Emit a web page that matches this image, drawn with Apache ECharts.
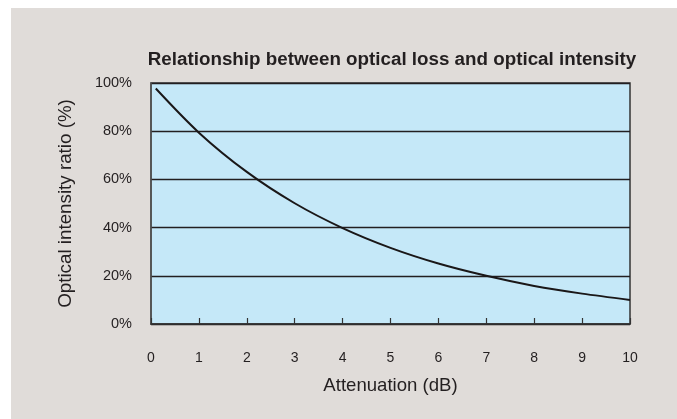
<!DOCTYPE html>
<html>
<head>
<meta charset="utf-8">
<script src="https://cdn.jsdelivr.net/npm/echarts@6/dist/echarts.min.js"></script>
<style>
  html, body { margin: 0; padding: 0; background: #ffffff; }
  #chart { width: 677px; height: 419px; }
</style>
</head>
<body>
<div id="chart"></div>
<script>
// Attenuation (dB) and the remaining optical intensity (%)
const attenuationDb = [0.1, 1, 2, 3, 4, 5, 6, 7, 8, 9, 10];
const intensityPct  = [97.7, 79.4, 63.1, 50.1, 39.8, 31.6, 25.1, 20.0, 15.8, 12.6, 10.0];
const xTicks = [0, 1, 2, 3, 4, 5, 6, 7, 8, 9, 10];
const yTicks = [0, 20, 40, 60, 80, 100];

const chart = echarts.init(document.getElementById('chart'), null, { renderer: 'canvas' });
const font = 'Liberation Sans, Arial, Helvetica, sans-serif';

chart.setOption({
  backgroundColor: '#ffffff',
  animation: false,
  graphic: [{
    type: 'rect',
    z: -10,
    shape: { x: 11, y: 8, width: 666, height: 411 },
    style: { fill: '#e0dcd9' },
    silent: true
  }],
  title: {
    text: 'Relationship between optical loss and optical intensity',
    left: 387, top: 45, textAlign: 'center',
    textStyle: { fontFamily: font, fontSize: 18.8, fontWeight: 'bold', color: '#231f20' }
  },
  grid: {
    left: 151, right: 47, top: 83, bottom: 95,
    show: true, backgroundColor: '#c5e8f8',
    borderColor: '#333333', borderWidth: 1.5
  },
  xAxis: {
    type: 'value', min: 0, max: 10, interval: 1,
    name: 'Attenuation (dB)', nameLocation: 'middle', nameGap: 52,
    nameTextStyle: { fontFamily: font, fontSize: 18.6, color: '#231f20' },
    axisLine: { show: true, lineStyle: { color: '#333333', width: 1.5 } },
    axisTick: { show: true, inside: true, length: 6, lineStyle: { color: '#333333', width: 1.2 } },
    axisLabel: {
      fontFamily: font, fontSize: 14, color: '#231f20', margin: 27,
      formatter: v => xTicks.includes(v) ? String(v) : ''
    },
    splitLine: { show: false }
  },
  yAxis: {
    type: 'value', min: 0, max: 100, interval: 20,
    name: 'Optical intensity ratio (%)', nameLocation: 'middle', nameGap: 76, nameRotate: 90,
    nameTextStyle: { fontFamily: font, fontSize: 18.8, color: '#231f20' },
    axisLine: { show: true, lineStyle: { color: '#555555', width: 1.5 } },
    axisTick: { show: false },
    axisLabel: {
      fontFamily: font, fontSize: 14.5, color: '#231f20', margin: 19,
      formatter: v => yTicks.includes(v) ? v + '%' : ''
    },
    splitLine: { show: true, lineStyle: { color: '#231f20', width: 1.3 } }
  },
  series: [{
    type: 'line',
    data: attenuationDb.map((x, i) => [x, intensityPct[i]]),
    smooth: 0.3,
    showSymbol: false,
    lineStyle: { color: '#1a1718', width: 2 }
  }]
});
</script>
</body>
</html>
